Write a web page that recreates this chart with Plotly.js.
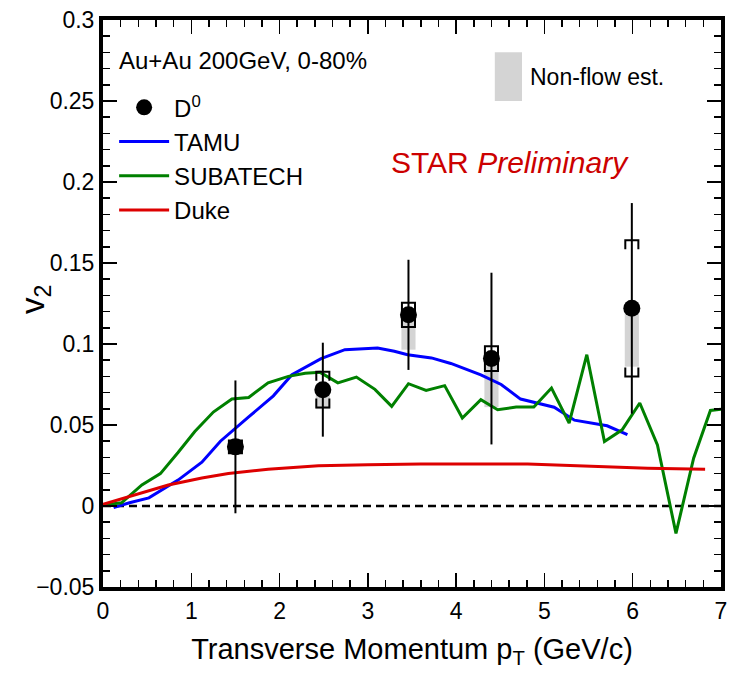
<!DOCTYPE html>
<html>
<head>
<meta charset="utf-8">
<script src="https://cdn.plot.ly/plotly-3.0.1.min.js"></script>
<style>
  html, body { margin: 0; padding: 0; background: #ffffff; }
  #chart { width: 732px; height: 679px; }
</style>
</head>
<body>
<div id="chart"></div>
<script>
// D0 v2 measurement, Au+Au 200 GeV, 0-80% centrality
const d0Pt      = [1.50, 2.49, 3.46, 4.40, 5.99];
const d0V2      = [0.0365, 0.0718, 0.118, 0.091, 0.122];
const d0Stat    = [0.041, 0.029, 0.034, 0.053, 0.065];
const d0Sys     = [0.004, 0.011, 0.0075, 0.0076, 0.042];
const d0NonFlow = [0.0, 0.012, 0.0215, 0.030, 0.036];

// Model curves
const tamuPt = [0.12, 0.30, 0.52, 0.85, 1.12, 1.33, 1.65, 1.93, 2.14, 2.47, 2.74, 3.11, 3.30, 3.45, 3.72, 3.94, 4.28, 4.51, 4.73, 5.11, 5.34, 5.71, 5.94];
const tamuV2 = [-0.001, 0.002, 0.005, 0.016, 0.027, 0.040, 0.055, 0.068, 0.081, 0.091, 0.0965, 0.0975, 0.0955, 0.0934, 0.0914, 0.088, 0.081, 0.075, 0.066, 0.061, 0.053, 0.0495, 0.044];

const subPt = [0.00, 0.21, 0.44, 0.65, 0.85, 1.04, 1.25, 1.46, 1.65, 1.87, 2.10, 2.29, 2.46, 2.66, 2.87, 3.08, 3.27, 3.46, 3.66, 3.87, 4.07, 4.28, 4.47, 4.68, 4.88, 5.08, 5.28, 5.48, 5.68, 5.88, 6.08, 6.28, 6.49, 6.69, 6.88, 7.00];
const subV2 = [0.0006, 0.002, 0.013, 0.020, 0.033, 0.046, 0.058, 0.066, 0.067, 0.076, 0.080, 0.082, 0.0825, 0.076, 0.0796, 0.072, 0.0615, 0.0755, 0.0714, 0.0743, 0.0543, 0.0656, 0.0594, 0.0611, 0.0611, 0.0728, 0.0512, 0.0934, 0.0398, 0.047, 0.0636, 0.0377, -0.0169, 0.0295, 0.059, 0.0598];

const dukePt = [0.00, 0.36, 0.74, 1.12, 1.42, 1.87, 2.44, 3.00, 3.60, 4.81, 5.41, 6.17, 6.82];
const dukeV2 = [0.001, 0.0068, 0.013, 0.0173, 0.020, 0.0227, 0.0248, 0.0254, 0.026, 0.026, 0.0248, 0.0233, 0.0227];

const xTicks = [0, 1, 2, 3, 4, 5, 6, 7];

const FONT = '"Liberation Sans", Arial, Helvetica, sans-serif';

// Bracket-style systematic error boxes built from the data arrays
const boxHalfW = 0.074;
const capLen = 0.0055;
const sysX = [], sysY = [];
d0Pt.forEach((x, i) => {
  const y = d0V2[i], s = d0Sys[i];
  const h = Math.min(capLen, s);
  sysX.push(x - boxHalfW, x - boxHalfW, x + boxHalfW, x + boxHalfW, null);
  sysY.push(y + s - h, y + s, y + s, y + s - h, null);
  sysX.push(x - boxHalfW, x - boxHalfW, x + boxHalfW, x + boxHalfW, null);
  sysY.push(y - s + h, y - s, y - s, y - s + h, null);
});

const traces = [
  {
    type: 'bar', x: d0Pt, y: d0NonFlow,
    base: d0V2.map((v, i) => v - d0NonFlow[i]),
    width: 0.16, marker: { color: '#d4d4d4', line: { width: 0 } },
    showlegend: false, hoverinfo: 'skip'
  },
  {
    type: 'scatter', mode: 'lines', name: 'TAMU', legendrank: 2,
    x: tamuPt, y: tamuV2, line: { color: '#0000ff', width: 3 }
  },
  {
    type: 'scatter', mode: 'lines', name: 'SUBATECH', legendrank: 3,
    x: subPt, y: subV2, line: { color: '#008000', width: 3 }
  },
  {
    type: 'scatter', mode: 'lines', name: 'Duke', legendrank: 4,
    x: dukePt, y: dukeV2, line: { color: '#dd0000', width: 3 }
  },
  {
    type: 'scatter', mode: 'lines', x: sysX, y: sysY,
    line: { color: '#000000', width: 2 }, showlegend: false, hoverinfo: 'skip'
  },
  {
    type: 'scatter', mode: 'markers', name: 'D<sup>0</sup>', legendrank: 1,
    x: d0Pt, y: d0V2,
    marker: { color: '#000000', size: 17, symbol: 'circle' },
    error_y: { type: 'data', array: d0Stat, visible: true, color: '#000000', thickness: 2, width: 0 }
  }
];

const axisCommon = {
  showline: true, linecolor: '#000000', linewidth: 4, mirror: 'allticks',
  ticks: 'inside', ticklen: 14, tickwidth: 1.5, tickcolor: '#000000',
  showgrid: false, zeroline: false,
  tickfont: { family: FONT, size: 23, color: '#000000' }
};

const layout = {
  width: 732, height: 679,
  margin: { l: 103, r: 11, t: 20, b: 92 },
  paper_bgcolor: '#ffffff', plot_bgcolor: '#ffffff',
  showlegend: true,
  legend: {
    x: 0.018, y: 0.885, xanchor: 'left', yanchor: 'top',
    bgcolor: 'rgba(0,0,0,0)', borderwidth: 0,
    font: { family: FONT, size: 24, color: '#000000' },
    traceorder: 'normal', itemwidth: 50, tracegroupgap: 0
  },
  xaxis: Object.assign({}, axisCommon, {
    range: [0, 7], tickvals: xTicks, ticktext: xTicks.map(String),
    minor: { dtick: 0.2, ticks: 'inside', ticklen: 7, tickwidth: 1.5, tickcolor: '#000000' },
    title: { text: 'Transverse Momentum p<sub>T</sub> (GeV/c)', font: { family: FONT, size: 29, color: '#000000' }, standoff: 17 }
  }),
  yaxis: Object.assign({}, axisCommon, {
    range: [-0.05, 0.3], dtick: 0.05, tick0: 0,
    minor: { dtick: 0.01, ticks: 'inside', ticklen: 7, tickwidth: 1.5, tickcolor: '#000000' }
  }),
  shapes: [
    { type: 'line', xref: 'paper', x0: 0, x1: 1, yref: 'y', y0: 0, y1: 0,
      line: { color: '#000000', width: 2.5, dash: '8px,5px' }, layer: 'below' },
    { type: 'rect', xref: 'paper', yref: 'paper', x0: 0.634, x1: 0.678, y0: 0.857, y1: 0.943,
      fillcolor: '#d4d4d4', line: { width: 0 } }
  ],
  annotations: [
    { xref: 'paper', yref: 'paper', x: -0.110, y: 0.506, xanchor: 'center', yanchor: 'middle',
      textangle: -90, text: 'v<sub>2</sub>', showarrow: false,
      font: { family: FONT, size: 33, color: '#000000' } },
    { xref: 'paper', yref: 'paper', x: 0.022, y: 0.929, xanchor: 'left', yanchor: 'middle',
      text: 'Au+Au 200GeV, 0-80%', showarrow: false,
      font: { family: FONT, size: 24, color: '#000000' } },
    { xref: 'paper', yref: 'paper', x: 0.687, y: 0.90, xanchor: 'left', yanchor: 'middle',
      text: 'Non-flow est.', showarrow: false, font: { family: FONT, size: 23, color: '#000000' } },
    { xref: 'paper', yref: 'paper', x: 0.659, y: 0.748, xanchor: 'center', yanchor: 'middle',
      text: 'STAR <i>Preliminary</i>', showarrow: false,
      font: { family: FONT, size: 30, color: '#cc0000' } }
  ]
};

Plotly.newPlot('chart', traces, layout, { displayModeBar: false, staticPlot: true });
</script>
</body>
</html>
